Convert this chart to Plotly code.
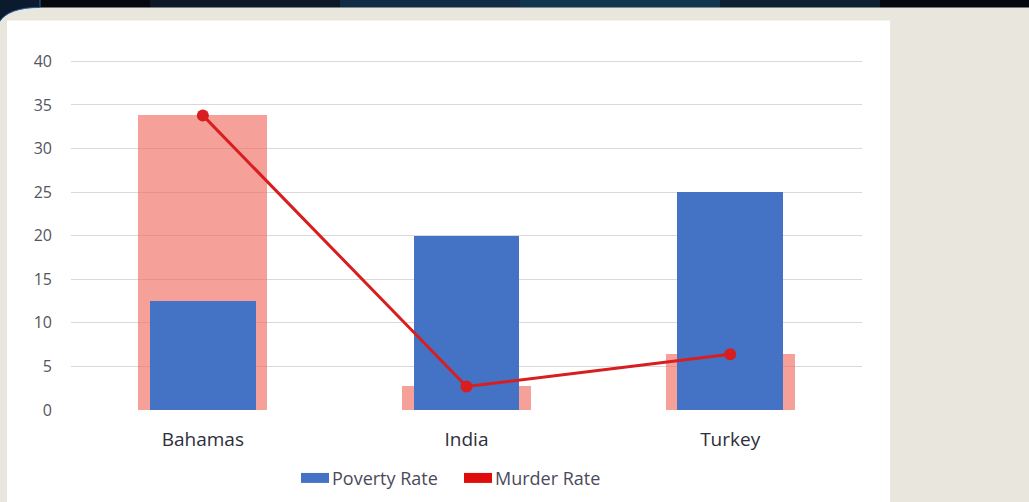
import plotly.graph_objects as go

countries = ["Bahamas", "India", "Turkey"]
poverty_rate = [12.5, 20, 25]
murder_rate = [33.8, 2.7, 6.4]
y_ticks = [0, 5, 10, 15, 20, 25, 30, 35, 40]
legend_names = ["Poverty Rate", "Murder Rate"]
legend_colors = ["#4472C4", "#E00C0C"]

W, H = 1029, 502
Y_TOP = 40.5
L, R = 71, 167
B = 92
PH = (410 - 61) * Y_TOP / 40.0
T = H - B - PH
PW = W - L - R

def px(x):
    return (x - L) / PW

def py(y):
    return (H - B - y) / PH

fig = go.Figure()

# Murder rate shown as translucent background bar
fig.add_trace(go.Bar(
    x=countries, y=murder_rate, width=0.49, name="Murder Rate",
    marker=dict(color="rgba(240,110,100,0.65)", line=dict(width=0)),
    showlegend=False, hoverinfo="skip",
))
fig.add_trace(go.Bar(
    x=countries, y=poverty_rate, width=0.4, name=legend_names[0],
    marker=dict(color=legend_colors[0], line=dict(width=0)), showlegend=False,
))
fig.add_trace(go.Scatter(
    x=countries, y=murder_rate, mode="lines+markers", showlegend=False,
    name=legend_names[1],
    line=dict(color="#D81E1E", width=3),
    marker=dict(color="#D81E1E", size=12),
))

shapes = []
# white panel
shapes.append(dict(type="rect", xref="paper", yref="paper",
                   x0=px(7), x1=px(890), y0=py(503), y1=py(20),
                   fillcolor="white", line=dict(width=0), layer="below"))
# dark top band with gradient segments
band = [(0, 150, "#05080d"), (150, 340, "#0a1828"), (340, 520, "#0f2c44"),
        (520, 720, "#123550"), (720, 880, "#0c1f33"), (880, 1030, "#05080d")]
for x0, x1, c in band:
    shapes.append(dict(type="rect", xref="paper", yref="paper",
                       x0=px(x0), x1=px(x1), y0=py(7), y1=py(-1),
                       fillcolor=c, line=dict(width=0), layer="below"))
# rounded top-left corner
shapes.append(dict(type="path", xref="paper", yref="paper",
                   path=f"M {px(-1)},{py(-1)} L {px(40)},{py(-1)} L {px(40)},{py(7)} "
                        f"Q {px(8)},{py(7)} {px(-1)},{py(22)} Z",
                   fillcolor="#0b1a2c", line=dict(color="#2b5ea0", width=1), layer="below"))

# legend (drawn manually: wide colour boxes + text)
legend_box_x = [301, 464]
legend_text_x = [330, 493]
annotations = []
for name, col, bx, tx in zip(legend_names, legend_colors, legend_box_x, legend_text_x):
    shapes.append(dict(type="rect", xref="paper", yref="paper",
                       x0=px(bx), x1=px(bx + 28), y0=py(483), y1=py(473),
                       fillcolor=col, line=dict(width=0)))
    annotations.append(dict(xref="paper", yref="paper", x=px(tx), y=py(478),
                            xanchor="left", yanchor="middle", showarrow=False,
                            text=name, font=dict(size=18, color="#4a4a5a",
                                                 family="Open Sans, sans-serif")))

fig.update_layout(
    width=W, height=H,
    autosize=False,
    margin=dict(l=L, r=R, t=T, b=B, autoexpand=False),
    paper_bgcolor="#E8E6DD",
    plot_bgcolor="white",
    barmode="overlay",
    bargap=0,
    font=dict(family="Open Sans, sans-serif", color="#595959"),
    shapes=shapes,
    annotations=annotations,
    showlegend=False,
    xaxis=dict(showgrid=False, showline=False, zeroline=False, ticks="",
               tickfont=dict(size=19, color="#2e2e3a"), ticklabelstandoff=16,
               fixedrange=True),
    yaxis=dict(range=[0, Y_TOP], tickvals=y_ticks, showgrid=True, gridcolor="#D9D9D9",
               gridwidth=1, zeroline=False, showline=False, ticks="",
               tickfont=dict(size=16, color="#55555f"), ticklabelstandoff=18),
)

fig.write_html("out.html", config={"displayModeBar": False, "responsive": False})

with open("out.html", "r", encoding="utf-8") as f:
    html = f.read()
html = html.replace("<head>", "<head><style>html,body{margin:0;padding:0;overflow:hidden;}</style>", 1)
with open("out.html", "w", encoding="utf-8") as f:
    f.write(html)
